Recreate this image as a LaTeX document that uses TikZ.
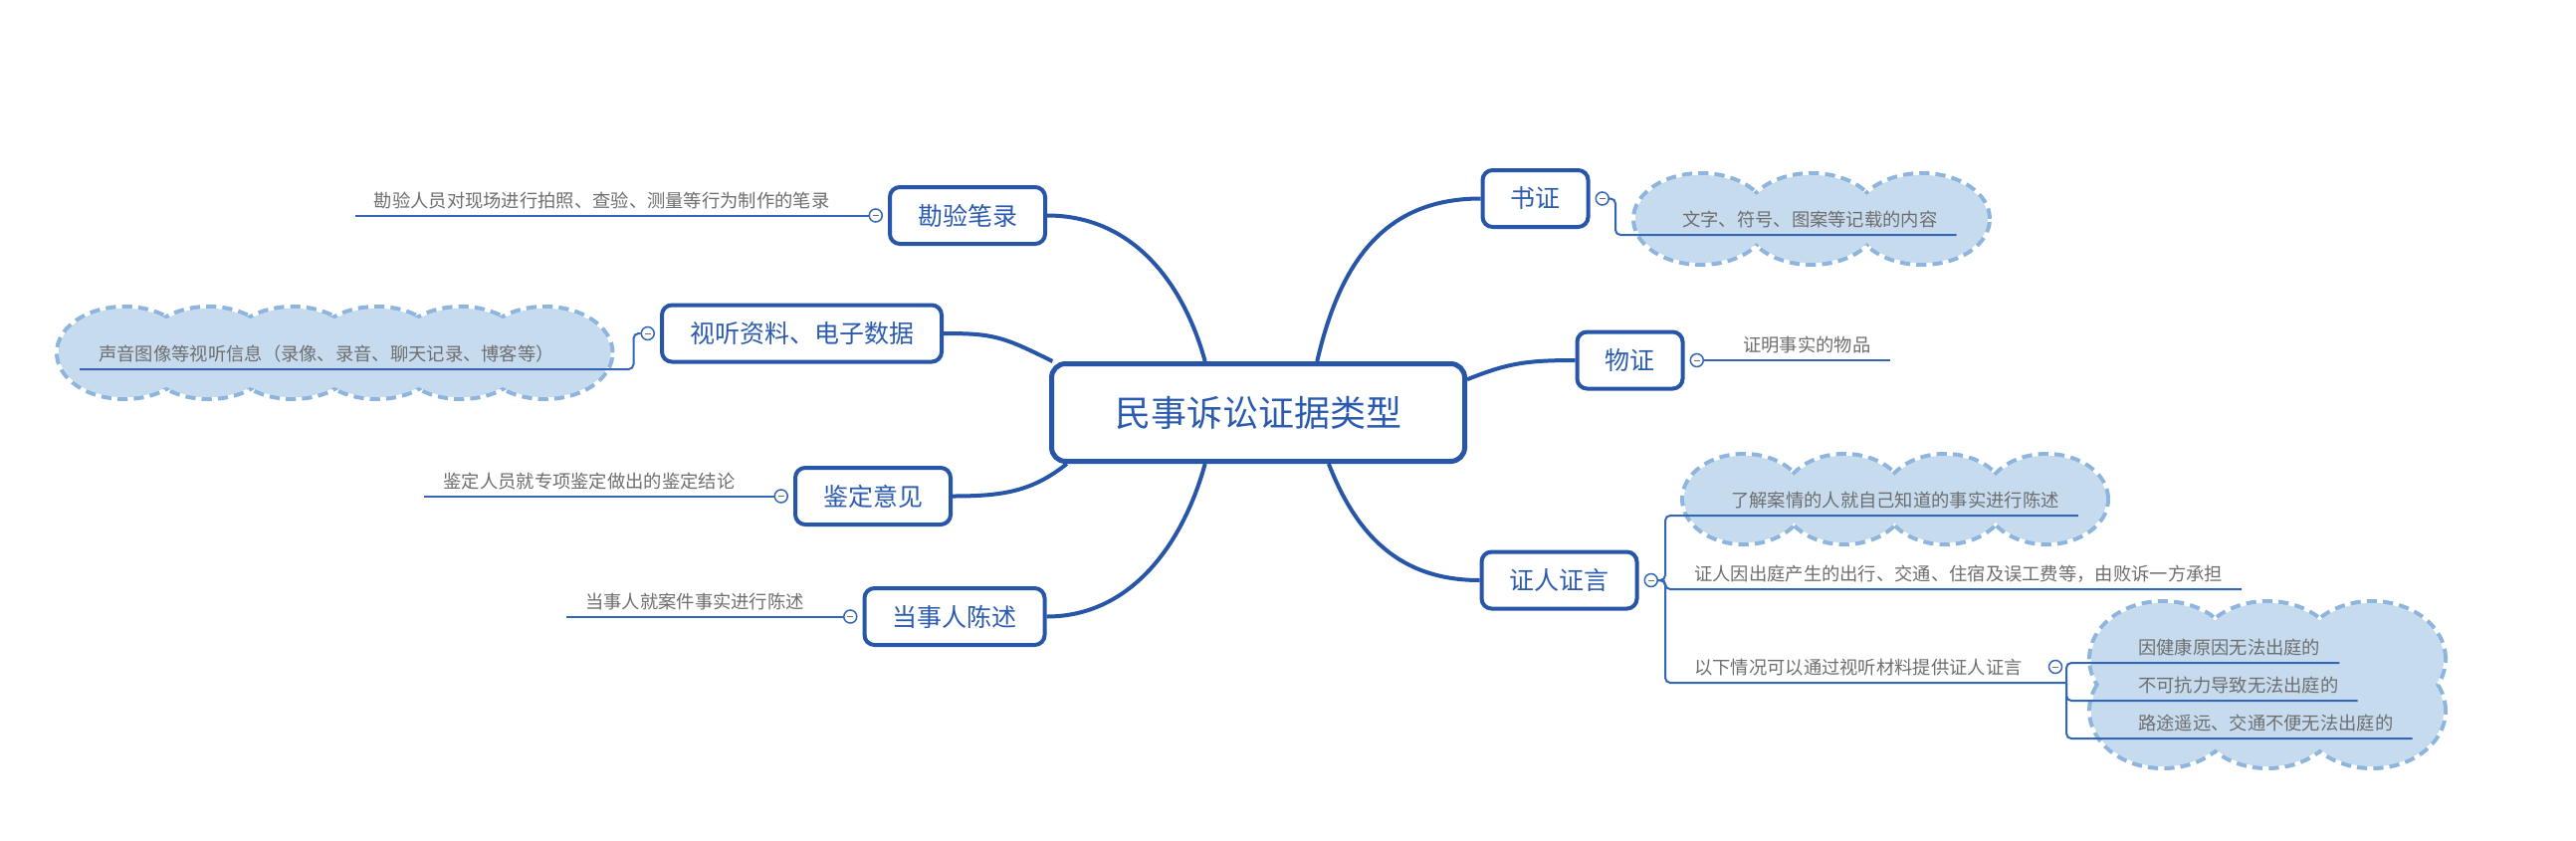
\documentclass[tikz,border=0pt]{standalone}
\usepackage{fontspec}
\setmainfont{Noto Sans CJK SC}
\usetikzlibrary{positioning}
\definecolor{mapblue}{HTML}{2756A8}
\definecolor{inkblue}{HTML}{2B5BB0}
\definecolor{leafgray}{HTML}{6E6E6E}
\definecolor{twigblue}{HTML}{3466B8}
\definecolor{puffblue}{HTML}{C6DBEE}
\definecolor{puffedge}{HTML}{8DB5DD}
% cloud behind a group of leaves: dashed puffs, then refilled
\newcommand{\puffcloud}[3]{%
  \foreach \px/\py in {#1} {\draw[puffline] (\px,\py) ellipse ({#2} and {#3});}
  \foreach \px/\py in {#1} {\fill[pufffill] (\px,\py) ellipse ({#2} and {#3});}
}

\begin{document}
\begin{tikzpicture}[x=1pt, y=-1pt, node distance=5pt,
  topic/.style={draw=mapblue, line width=5pt, rounded corners=14pt, fill=white, text=inkblue,
    minimum width=415pt, minimum height=98pt, font=\fontsize{36}{40}\selectfont},
  subtopic/.style={draw=mapblue, line width=4pt, rounded corners=10pt, fill=white, text=inkblue,
    inner xsep=28pt, minimum height=57pt, font=\fontsize{25}{30}\selectfont},
  knob/.style={circle, draw=twigblue, line width=1.5pt, fill=white, minimum size=13pt, inner sep=0pt,
    path picture={\draw[leafgray, line width=1pt] ([xshift=-3pt]path picture bounding box.center)
      -- ([xshift=3pt]path picture bounding box.center);}},
  leaf/.style={text=leafgray, inner xsep=19pt, inner ysep=4pt, text height=14pt, text depth=4pt,
    font=\fontsize{18.3}{22}\selectfont},
  limb/.style={draw=mapblue, line width=4pt},
  twig/.style={draw=twigblue, line width=2pt, rounded corners=5pt},
  puffline/.style={draw=puffedge, line width=8pt, dash pattern=on 10pt off 6pt, fill=puffblue},
  pufffill/.style={fill=puffblue}]

  \fill[white] (0,0) rectangle (2588,844);
  \useasboundingbox (0,0) rectangle (2588,844);

  % Clouds
  \puffcloud{1709/220,1820/220,1931/220}{66pt}{44pt}
  \puffcloud{125/354.5,209.5/354.5,294/354.5,378.5/354.5,463/354.5,547.5/354.5}{66pt}{44.5pt}
  \puffcloud{1752/501.5,1853/501.5,1954/501.5,2056/501.5}{60pt}{43.5pt}
  \puffcloud{2173/662,2278/662,2383/662,2173/714,2278/714,2383/714}{72pt}{56pt}

  % Define nodes
  \node[topic] (root) at (1264,414.5) {民事诉讼证据类型};

  \node[subtopic] (kanyan) at (972,216.5) {勘验笔录};
  \node[subtopic] (shiting) at (805.5,335) {视听资料、电子数据};
  \node[subtopic] (jianding) at (877,498.5) {鉴定意见};
  \node[subtopic] (dangshi) at (959,619.5) {当事人陈述};
  \node[subtopic] (shuzheng) at (1542.5,199.5) {书证};
  \node[subtopic] (wuzheng) at (1637.5,362) {物证};
  \node[subtopic] (zhengren) at (1566.5,583) {证人证言};

  \node[knob, right=of shuzheng] (c1) {};
  \node[knob, right=of wuzheng] (c2) {};
  \node[knob, right=of zhengren] (c3) {};
  \node[knob, left=of kanyan] (c5) {};
  \node[knob, left=of shiting] (c6) {};
  \node[knob, left=of jianding] (c7) {};
  \node[knob, left=of dangshi] (c8) {};

  \node[leaf, anchor=south west] (t1) at (1671,236) {文字、符号、图案等记载的内容};
  \node[leaf, right=20pt of c2, anchor=south west] (t2) {证明事实的物品};
  \node[leaf, anchor=south west] (t31) at (1720,518) {了解案情的人就自己知道的事实进行陈述};
  \node[leaf, anchor=south west] (t32) at (1683,592) {证人因出庭产生的出行、交通、住宿及误工费等，由败诉一方承担};
  \node[leaf, anchor=south west] (t33) at (1683,686) {以下情况可以通过视听材料提供证人证言};
  \node[leaf, anchor=south west] (g1) at (2129,666) {因健康原因无法出庭的};
  \node[leaf, anchor=south west] (g2) at (2129,704) {不可抗力导致无法出庭的};
  \node[leaf, anchor=south west] (g3) at (2129,742) {路途遥远、交通不便无法出庭的};
  \node[leaf, left=20pt of c5, anchor=south east] (t5) {勘验人员对现场进行拍照、查验、测量等行为制作的笔录};
  \node[leaf, anchor=south east] (t6) at (576,371) {声音图像等视听信息（录像、录音、聊天记录、博客等）};
  \node[leaf, left=20pt of c7, anchor=south east] (t7) {鉴定人员就专项鉴定做出的鉴定结论};
  \node[leaf, left=20pt of c8, anchor=south east] (t8) {当事人就案件事实进行陈述};
  \coordinate (j33) at (2076,686);

  % Connect the nodes
  \draw[limb] (root.136) .. controls +(-22,-80) and +(85,0) .. (kanyan.east);
  \draw[limb] (root.166) .. controls +(-50,-25) and +(50,0) .. (shiting.east);
  \draw[limb] (root.195.5) .. controls +(-35,28) and +(50,0) .. (jianding.east);
  \draw[limb] (root.224) .. controls +(-22,80) and +(85,0) .. (dangshi.east);
  \draw[limb] (root.41) .. controls +(22,-95) and +(-100,0) .. (shuzheng.west);
  \draw[limb] (root.9) .. controls +(40,-16) and +(-50,0) .. (wuzheng.west);
  \draw[limb] (root.-36) .. controls +(28,72) and +(-80,0) .. (zhengren.west);

  % Leaves
  \draw[twig] (c1.east) -- ++(6,0) |- (t1.south east);
  \draw[twig] (c2.east) -- (t2.south east);
  \draw[twig] (c3.east) -- ++(7,0) |- (t31.south east);
  \draw[twig] (c3.east) -- ++(7,0) |- (t32.south east);
  \draw[twig] (c3.east) -- ++(7,0) |- (t33.south east) -- (j33);
  \draw[twig] (j33) |- (g1.south east);
  \draw[twig] (j33) |- (g2.south east);
  \draw[twig] (j33) |- (g3.south east);
  \draw[twig] (c5.west) -- (t5.south west);
  \draw[twig] (c6.west) -- ++(-7,0) |- (t6.south west);
  \draw[twig] (c7.west) -- (t7.south west);
  \draw[twig] (c8.west) -- (t8.south west);

  \node[knob] (c4) at (2065,670) {};
\end{tikzpicture}
\end{document}
